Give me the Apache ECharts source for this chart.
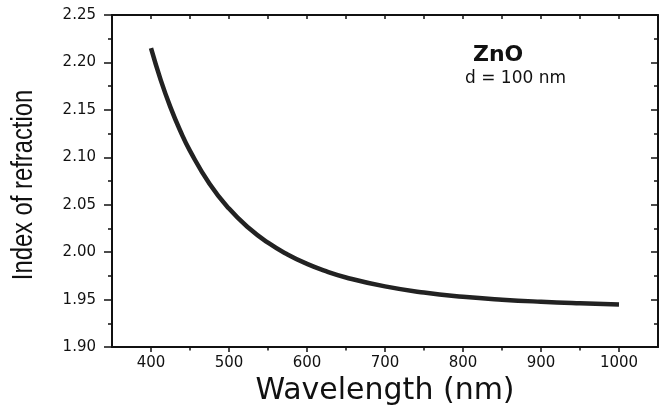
<!DOCTYPE html>
<html>
<head>
<meta charset="utf-8">
<script src="https://cdn.jsdelivr.net/npm/echarts@6/dist/echarts.min.js"></script>
<style>
  html, body { margin: 0; padding: 0; background: #fff; }
  #chart { width: 659px; height: 411px; }
</style>
</head>
<body>
<div id="chart"></div>
<script>
// wavelength (nm) and refractive index
const wavelength = [400, 412.5, 425, 437.5, 450, 475, 500, 525, 550, 575, 600, 625, 650, 700, 750, 800, 850, 900, 950, 1000];
const refIndex = [2.2150, 2.1814, 2.1527, 2.1280, 2.1068, 2.0722, 2.0460, 2.0258, 2.0100, 1.9976, 1.9877, 1.9798, 1.9734, 1.9640, 1.9575, 1.9531, 1.9500, 1.9478, 1.9462, 1.9450];
const xLabelValues = [400, 500, 600, 700, 800, 900, 1000];
const xMinorValues = [450, 550, 650, 750, 850, 950];

const chart = echarts.init(document.getElementById("chart"));
const ink = "#111";
const tickFont = { color: ink, fontSize: 15, fontFamily: "DejaVu Sans" };

const option = {
  animation: false,
  grid: { left: 112, right: 1, top: 15, bottom: 56, containLabel: false },
  xAxis: [
    {
      type: "value", position: "bottom", min: 350, max: 1050, interval: 50,
      name: "Wavelength (nm)", nameLocation: "middle", nameGap: 22,
      nameTextStyle: { color: ink, fontSize: 30, fontFamily: "DejaVu Sans", verticalAlign: "top" },
      axisLine: { lineStyle: { color: ink, width: 2 } },
      axisTick: { length: 5, customValues: xLabelValues, lineStyle: { color: ink, width: 1.5 } },
      axisLabel: Object.assign({ margin: 9, customValues: xLabelValues,
        formatter: v => (v % 100 === 0 ? String(v) : "") }, tickFont),
      splitLine: { show: false }
    },
    {
      type: "value", position: "bottom", min: 350, max: 1050, interval: 50,
      axisLine: { show: false },
      axisTick: { length: 3.5, customValues: xMinorValues, lineStyle: { color: ink, width: 1.5 } },
      axisLabel: { show: false },
      splitLine: { show: false }
    },
    {
      type: "value", position: "top", min: 350, max: 1050, interval: 50,
      axisLine: { lineStyle: { color: ink, width: 2 } },
      axisTick: { inside: true, length: 4, lineStyle: { color: ink, width: 1.5 } },
      axisLabel: { show: false },
      splitLine: { show: false }
    }
  ],
  yAxis: [
    {
      type: "value", position: "left", min: 1.9, max: 2.25, interval: 0.05,
      axisLine: { lineStyle: { color: ink, width: 2 } },
      axisTick: { length: 8, lineStyle: { color: ink, width: 1.5 } },
      minorTick: { show: true, splitNumber: 2, length: 4, lineStyle: { color: ink, width: 1.5 } },
      axisLabel: Object.assign({ margin: 16, formatter: v => v.toFixed(2) }, tickFont),
      splitLine: { show: false }
    },
    {
      type: "value", position: "right", min: 1.9, max: 2.25, interval: 0.05,
      axisLine: { lineStyle: { color: ink, width: 2 } },
      axisTick: { inside: true, length: 7, lineStyle: { color: ink, width: 1.5 } },
      minorTick: { show: true, splitNumber: 2, length: 4, lineStyle: { color: ink, width: 1.5 } },
      axisLabel: { show: false },
      splitLine: { show: false }
    }
  ],
  graphic: [
    // condensed vertical axis title
    { type: "text", x: 24, y: 185, rotation: Math.PI / 2, scaleX: 0.82,
      style: { text: "Index of refraction", fill: ink, fontSize: 29, fontFamily: "Liberation Sans",
        align: "center", verticalAlign: "middle" } },
    { type: "text", left: 473, top: 44,
      style: { text: "ZnO", fill: ink, fontSize: 22, fontWeight: "bold", fontFamily: "DejaVu Sans" } },
    { type: "text", left: 465, top: 70,
      style: { text: "d = 100 nm", fill: ink, fontSize: 17, fontFamily: "DejaVu Sans" } }
  ],
  series: [
    {
      type: "line", xAxisIndex: 0, yAxisIndex: 0,
      data: wavelength.map((w, i) => [w, refIndex[i]]),
      smooth: true, showSymbol: false,
      lineStyle: { color: "#222", width: 4.5 }
    }
  ]
};
chart.setOption(option);
</script>
</body>
</html>
